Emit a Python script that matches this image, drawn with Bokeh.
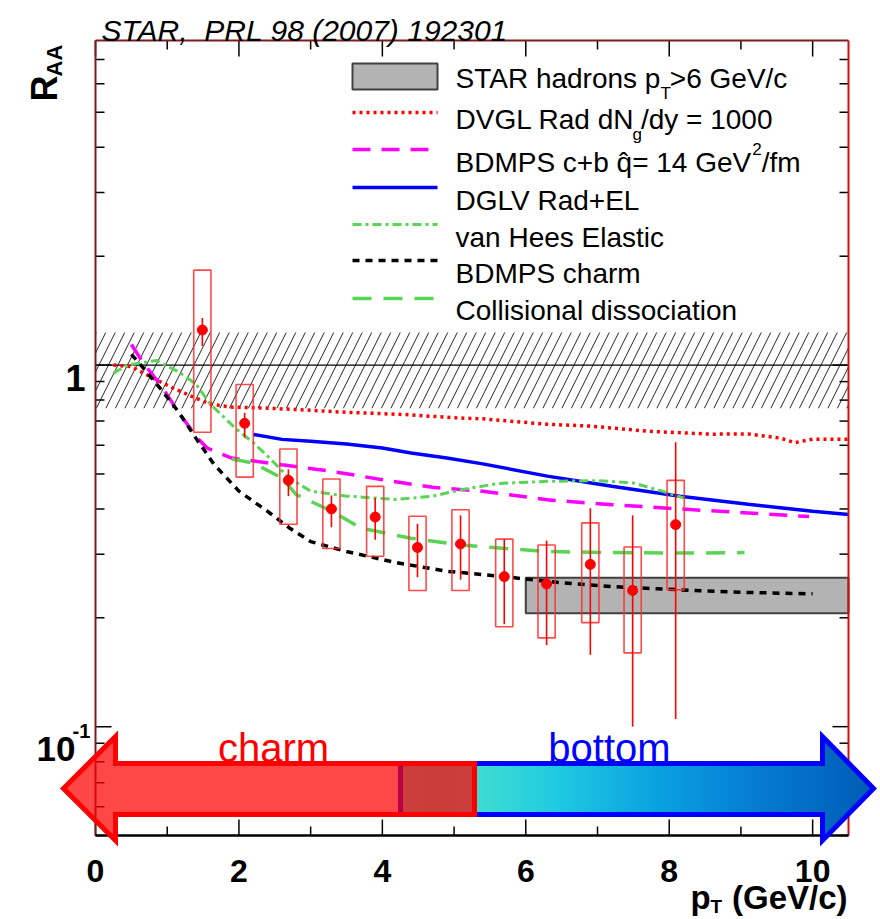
import math
from bokeh.plotting import figure
from bokeh.models import Label, PolyAnnotation, Range1d
from bokeh.embed import file_html
from bokeh.resources import INLINE

# ---------------- data ----------------
# STAR non-photonic electron R_AA (central Au+Au, 200 GeV)
pt = [1.49, 2.08, 2.69, 3.29, 3.90, 4.49, 5.09, 5.70, 6.29, 6.90, 7.49, 8.09]
raa = [1.25, 0.69, 0.48, 0.40, 0.38, 0.313, 0.32, 0.26, 0.248, 0.281, 0.238, 0.362]
stat_lo = [1.13, 0.629, 0.434, 0.356, 0.329, 0.259, 0.255, 0.192, 0.168, 0.158, 0.100, 0.105]
stat_hi = [1.35, 0.738, 0.515, 0.436, 0.429, 0.364, 0.384, 0.330, 0.327, 0.402, 0.384, 0.612]
sys_lo = [0.652, 0.490, 0.363, 0.311, 0.296, 0.238, 0.238, 0.189, 0.176, 0.194, 0.160, 0.239]
sys_hi = [1.83, 0.884, 0.586, 0.484, 0.462, 0.382, 0.398, 0.330, 0.318, 0.366, 0.314, 0.480]

# normalisation uncertainty around unity
norm_band = [0.76, 1.23]
# STAR hadrons pT > 6 GeV/c
hadron_pt = [6.0, 10.5]
hadron_raa = [0.206, 0.258]

# model curves
dvgl_x = [0.25, 0.5, 0.85, 1.1, 1.4, 1.6, 1.9, 2.4, 3.0, 3.5, 4.3, 5.0, 5.4, 6.3, 6.9, 7.7, 8.6, 9.1, 9.55, 9.75, 10.0, 10.5]
dvgl_y = [1.0, 0.99, 0.91, 0.86, 0.81, 0.78, 0.765, 0.76, 0.75, 0.74, 0.73, 0.715, 0.71, 0.686, 0.678, 0.656, 0.644, 0.645, 0.628, 0.61, 0.624, 0.624]

bdmps_cb_x = [0.5, 0.67, 0.9, 1.18, 1.42, 1.56, 1.9, 2.6, 3.3, 4.0, 4.7, 5.4, 6.3, 7.2, 8.15, 9.1, 9.95]
bdmps_cb_y = [1.14, 1.01, 0.886, 0.73, 0.628, 0.589, 0.553, 0.530, 0.508, 0.482, 0.459, 0.448, 0.424, 0.411, 0.400, 0.390, 0.381]

dglv_x = [2.2, 2.6, 3.0, 3.5, 4.0, 4.4, 4.9, 5.4, 6.3, 7.2, 8.15, 9.1, 10.0, 10.5]
dglv_y = [0.643, 0.623, 0.616, 0.605, 0.59, 0.571, 0.553, 0.533, 0.493, 0.462, 0.434, 0.412, 0.394, 0.386]

vanhees_x = [0.25, 0.45, 0.85, 1.15, 1.4, 1.6, 1.95, 2.2, 2.4, 2.7, 3.0, 3.5, 4.2, 4.7, 5.1, 5.6, 6.3, 7.0, 7.5, 7.9, 8.2]
vanhees_y = [0.95, 1.0, 1.03, 0.96, 0.886, 0.78, 0.669, 0.61, 0.56, 0.487, 0.448, 0.434, 0.425, 0.434, 0.452, 0.47, 0.477, 0.479, 0.472, 0.448, 0.429]

bdmps_c_x = [0.5, 0.67, 0.9, 1.15, 1.4, 1.65, 2.0, 2.4, 2.7, 3.0, 3.5, 4.2, 4.9, 5.7, 6.3, 7.2, 8.15, 9.1, 10.0]
bdmps_c_y = [1.07, 0.98, 0.863, 0.746, 0.628, 0.532, 0.448, 0.394, 0.355, 0.325, 0.305, 0.284, 0.269, 0.26, 0.252, 0.244, 0.239, 0.235, 0.233]

coll_x = [1.9, 2.2, 2.6, 2.8, 3.3, 3.7, 4.4, 5.1, 5.8, 6.3, 7.2, 8.15, 9.05]
coll_y = [0.55, 0.536, 0.487, 0.438, 0.394, 0.354, 0.332, 0.318, 0.31, 0.305, 0.303, 0.302, 0.303]

x_ticks = [0, 2, 4, 6, 8, 10]
x_tick_labels = ["0", "2", "4", "6", "8", "10"]
x_minor = [1, 3, 5, 7, 9]
y_minor = [0.05, 0.06, 0.07, 0.08, 0.09, 0.2, 0.3, 0.4, 0.5, 0.6, 0.7, 0.8, 0.9, 2, 3, 4, 5, 6, 7]

# ---------------- canvas / frame geometry ----------------
W, H = 880, 919
FL, FR, FT, FB = 95, 848, 40, 835          # pixel box of the axes frame
X0, X1 = 0.0, 10.5                           # pT range of the frame
Y0, Y1 = 0.05, 7.9                           # R_AA range of the frame
FONT = "Liberation Sans"
LY0, LY1 = math.log10(Y0), math.log10(Y1)


def dx(px):
    return X0 + (px - FL) / (FR - FL) * (X1 - X0)


def dy(py):
    return 10 ** (LY0 + (FB - py) / (FB - FT) * (LY1 - LY0))


# the plotting area spans the whole canvas so that labels and arrows outside
# the axes frame are not clipped; the frame itself is drawn below
p = figure(width=W, height=H, x_range=Range1d(dx(0), dx(W)), y_range=Range1d(dy(H), dy(0)),
           y_axis_type="log", x_axis_location=None, y_axis_location=None,
           output_backend="svg", toolbar_location=None, title=None,
           min_border=0, min_border_left=0, min_border_right=0, min_border_top=0, min_border_bottom=0)
p.grid.visible = False
p.outline_line_color = None
p.background_fill_color = "white"
p.border_fill_color = "white"

# ---------------- marks ----------------
p.quad(left=[X0], right=[X1], bottom=[norm_band[0]], top=[norm_band[1]],
       fill_alpha=0, line_alpha=0, hatch_pattern="/", hatch_color="black",
       hatch_alpha=0.85, hatch_scale=19, hatch_weight=1)
p.line([X0, X1], [1, 1], line_color="black", line_width=1.2)

p.quad(left=[hadron_pt[0]], right=[hadron_pt[1]], bottom=[hadron_raa[0]], top=[hadron_raa[1]],
       fill_color="#b3b3b3", line_color="#404040", line_width=2)

RED, MAG, BLUE, GREEN = "#ff0000", "#ff00ff", "#0000ff", "#59d454"
styles = {
    "dvgl": dict(line_color=RED, line_width=3.5, line_dash="3 4"),
    "bdmps_cb": dict(line_color=MAG, line_width=3.5, line_dash="18 11"),
    "dglv": dict(line_color=BLUE, line_width=3.5),
    "vanhees": dict(line_color=GREEN, line_width=3, line_dash="9 4 3 4"),
    "bdmps_c": dict(line_color="black", line_width=3.5, line_dash="7 6"),
    "coll": dict(line_color=GREEN, line_width=3.5, line_dash="19 12"),
}
p.line(dvgl_x, dvgl_y, **styles["dvgl"])
p.line(bdmps_cb_x, bdmps_cb_y, **styles["bdmps_cb"])
p.line(dglv_x, dglv_y, **styles["dglv"])
p.line(vanhees_x, vanhees_y, **styles["vanhees"])
p.line(bdmps_c_x, bdmps_c_y, **styles["bdmps_c"])
p.line(coll_x, coll_y, **styles["coll"])

# data: systematic boxes, statistical bars, points
p.quad(left=[x - 0.12 for x in pt], right=[x + 0.12 for x in pt], bottom=sys_lo, top=sys_hi,
       fill_alpha=0, line_color="#ff2a2a", line_alpha=0.85, line_width=1.6)
p.segment(x0=pt, y0=stat_lo, x1=pt, y1=stat_hi, line_color=RED, line_width=1.6)
p.scatter(pt, raa, size=10, fill_color=RED, line_color=RED)

# ---------------- axes frame and ticks ----------------
MAJ, MIN = 16, 9
n, m = len(x_ticks), len(x_minor)
p.segment(x0=x_ticks, y0=[Y0] * n, x1=x_ticks, y1=[dy(FB - MAJ)] * n, line_color="black", line_width=1.5)
p.segment(x0=x_minor, y0=[Y0] * m, x1=x_minor, y1=[dy(FB - MIN)] * m, line_color="black", line_width=1.5)
p.segment(x0=x_ticks, y0=[Y1] * n, x1=x_ticks, y1=[dy(FT + MAJ)] * n, line_color="black", line_width=1.5)
p.segment(x0=x_minor, y0=[Y1] * m, x1=x_minor, y1=[dy(FT + MIN)] * m, line_color="black", line_width=1.5)
y_major = [0.1, 1]
k, q = len(y_major), len(y_minor)
p.segment(x0=[X0] * k, y0=y_major, x1=[dx(FL + MAJ)] * k, y1=y_major, line_color="black", line_width=1.5)
p.segment(x0=[X0] * q, y0=y_minor, x1=[dx(FL + MIN)] * q, y1=y_minor, line_color="black", line_width=1.5)
p.segment(x0=[X1] * k, y0=y_major, x1=[dx(FR - MAJ)] * k, y1=y_major, line_color="black", line_width=1.5)
p.segment(x0=[X1] * q, y0=y_minor, x1=[dx(FR - MIN)] * q, y1=y_minor, line_color="black", line_width=1.5)

p.line([X0, X0], [Y0, Y1], line_color="#7a1e1e", line_width=2)
p.line([X0, X1], [Y1, Y1], line_color="#7a1e1e", line_width=2)
p.line([X1, X1], [Y0, Y1], line_color="#d01010", line_width=2)
p.line([X0, X1], [Y0, Y0], line_color="black", line_width=2.5)

# ---------------- text helpers ----------------
WIDTHS = {" ": 278, "(": 333, ")": 333, "+": 584, ",": 278, "-": 333, ".": 278, "/": 278,
          "=": 584, ">": 584, "A": 667, "B": 667, "C": 722, "D": 722, "E": 667, "G": 778,
          "H": 722, "L": 556, "M": 833, "N": 722, "P": 667, "R": 722, "S": 667, "T": 611,
          "V": 667, "a": 556, "b": 556, "c": 500, "d": 556, "e": 556, "f": 278, "g": 556,
          "h": 556, "i": 222, "l": 222, "m": 833, "n": 556, "o": 556, "p": 556, "q": 556,
          "r": 333, "s": 500, "t": 278, "u": 556, "v": 500, "y": 500, "\u0302": 0}


def tw(s, size):
    return sum(WIDTHS.get(c, 556) for c in s) * size / 1000.0


def label(x, y, text, size, color="black", style="normal", align="left", angle=0.0, y_offset=0):
    p.add_layout(Label(x=x, y=y, y_offset=y_offset, text=text, text_font=FONT,
                       text_font_size=f"{size}px", text_font_style=style, text_color=color,
                       text_align=align, text_baseline="alphabetic", angle=angle))


def put(px, py, text, size, **kw):
    label(dx(px), dy(py), text, size, **kw)


def rich(px, py, pieces, size=28):
    # pieces: (text, kind) where kind is "", "sub" or "sup"
    x = px
    for text, kind in pieces:
        if kind == "sub":
            put(x - 2, py + 15, text, 17)
            x += tw(text, 17) - 3
        elif kind == "sup":
            put(x + 1, py - 14, text, 17)
            x += tw(text, 17) + 1
        else:
            put(x, py, text, size)
            x += tw(text, size)


# tick labels
for t, lab in zip(x_ticks, x_tick_labels):
    label(t, dy(870), lab, 32, style="bold", align="center")
label(dx(85), 1, "1", 36, style="bold", align="right", y_offset=-13)
label(dx(36), 0.1, "10", 35, style="bold", y_offset=-22)
label(dx(72), 0.1, "-1", 20, style="bold", y_offset=-4)

# ---------------- legend ----------------
LX0, LX1, TX = 352, 437, 455
rows_line = [76, 112, 149, 187, 224, 260, 298]
rows_text = [78, 119, 162, 200, 237, 273, 310]

p.quad(left=[dx(LX0)], right=[dx(LX1)], top=[dy(rows_line[0] - 13)], bottom=[dy(rows_line[0] + 13)],
       fill_color="#b3b3b3", line_color="#404040", line_width=2)
for key, ry in zip(["dvgl", "bdmps_cb", "dglv", "vanhees", "bdmps_c", "coll"], rows_line[1:]):
    p.line([dx(LX0), dx(LX1)], [dy(ry), dy(ry)], **styles[key])

rich(TX, rows_text[0], [("STAR hadrons p", ""), ("T", "sub"), (">6 GeV/c", "")])
rich(TX, rows_text[1], [("DVGL Rad dN", ""), ("g", "sub"), ("/dy = 1000", "")])
rich(TX, rows_text[2], [("BDMPS c+b q\u0302= 14 GeV", ""), ("2", "sup"), ("/fm", "")])
rich(TX, rows_text[3], [("DGLV Rad+EL", "")])
rich(TX, rows_text[4], [("van Hees Elastic", "")])
rich(TX, rows_text[5], [("BDMPS charm", "")])
rich(TX, rows_text[6], [("Collisional dissociation", "")])

# ---------------- title and axis titles ----------------
put(101, 30, "STAR,\u00a0 PRL 98 (2007) 192301", 30, style="italic")

put(44, 101, "R", 36, style="bold", angle=math.pi / 2)
put(54, 76, "AA", 22, style="bold", angle=math.pi / 2)

put(690, 897, "p", 33, style="bold")
put(710, 906, "T", 19, style="bold")
put(847, 897, "(GeV/c)", 33, style="bold", align="right")

# ---------------- charm / bottom arrows ----------------
TIP_Y, SH_T, SH_B, HD_T, HD_B = 788, 763, 814, 736, 840
b_start, b_head, b_tip = 400, 822, 873
stops = [(400, (64, 224, 208)), (474, (64, 222, 210)), (560, (30, 200, 225)),
         (660, (10, 160, 225)), (760, (5, 122, 210)), (873, (0, 92, 180))]


def grad(px):
    for (xa, ca), (xb, cb) in zip(stops[:-1], stops[1:]):
        if xa <= px <= xb:
            t = (px - xa) / (xb - xa)
            return "#%02x%02x%02x" % tuple(int(round(a + (b - a) * t)) for a, b in zip(ca, cb))
    return "#%02x%02x%02x" % stops[-1][1]


def half(px):
    return (HD_B - HD_T) / 2 * (b_tip - px) / (b_tip - b_head)


step = 4
for xa in range(b_start, b_tip, step):
    xb2 = min(xa + step + 1, b_tip)
    col = grad(xa + step / 2)
    if xb2 <= b_head:
        pxs = [xa, xb2, xb2, xa]
        pys = [SH_T, SH_T, SH_B, SH_B]
    else:
        a0 = max(xa, b_head)
        pxs, pys = [], []
        if xa < b_head:
            pxs += [xa, b_head]
            pys += [SH_T, SH_T]
        ha, hb = half(a0), half(xb2)
        pxs += [a0, xb2, xb2, a0]
        pys += [TIP_Y - ha, TIP_Y - hb, TIP_Y + hb, TIP_Y + ha]
        if xa < b_head:
            pxs += [b_head, xa]
            pys += [SH_B, SH_B]
    p.add_layout(PolyAnnotation(xs=[dx(v) for v in pxs], ys=[dy(v) for v in pys],
                                fill_color=col, fill_alpha=1.0, line_alpha=0))

blue_x = [b_start, b_head, b_head, b_tip, b_head, b_head, b_start]
blue_y = [SH_T, SH_T, HD_T, TIP_Y, HD_B, SH_B, SH_B]
p.add_layout(PolyAnnotation(xs=[dx(v) for v in blue_x], ys=[dy(v) for v in blue_y],
                            fill_alpha=0, line_color="#0000ff", line_alpha=1.0,
                            line_width=5, line_join="miter"))

r_tip, r_head, r_end = 63, 115, 474
red_x = [r_tip, r_head, r_head, r_end, r_end, r_head, r_head]
red_y = [TIP_Y, HD_T, SH_T, SH_T, SH_B, SH_B, HD_B]
p.add_layout(PolyAnnotation(xs=[dx(v) for v in red_x], ys=[dy(v) for v in red_y],
                            fill_color="#ff0000", fill_alpha=0.72, line_color="#ff0000",
                            line_alpha=1.0, line_width=5, line_join="miter"))

put(273, 747, "charm", 40, color="#ff0000", align="center")
put(609, 747, "bottom", 40, color="#0000ff", align="center")

open("out.html", "w").write(file_html(p, INLINE))
